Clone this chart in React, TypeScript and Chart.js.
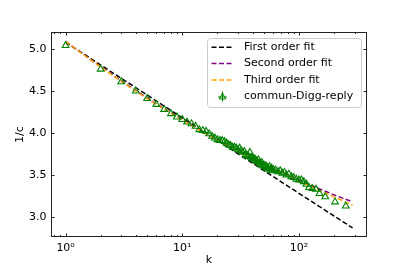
import React, { useEffect, useRef } from 'react';
import { Chart, registerables } from 'chart.js';

Chart.register(...registerables);

// observed data: degree k vs 1/c
const degreeK = [
  1, 2, 3, 4, 5, 6, 7, 8, 9, 10,
  11, 12, 13, 14, 15, 16, 17, 18, 19, 20,
  21, 22, 23, 24, 25, 26, 27, 28, 29, 30,
  31, 32, 33, 34, 35, 36, 37, 38, 39, 40,
  41, 42, 43, 44, 45, 46, 47, 48, 49, 50,
  51, 52, 53, 54, 55, 56, 57, 58, 59, 60,
  63, 66, 69, 72, 75, 78, 82, 86, 90, 95,
  100, 105, 110, 116, 122, 130, 140, 150, 168, 204, 252,
];
const invC = [
  5.04, 4.76, 4.61, 4.50, 4.41, 4.34, 4.28, 4.23, 4.19, 4.16,
  4.13, 4.11, 4.08, 4.04, 4.03, 4.02, 3.99, 3.96, 3.94, 3.92,
  3.91, 3.91, 3.90, 3.88, 3.86, 3.85, 3.83, 3.83, 3.82, 3.80,
  3.82, 3.79, 3.77, 3.78, 3.74, 3.73, 3.72, 3.77, 3.71, 3.70,
  3.69, 3.69, 3.67, 3.66, 3.68, 3.64, 3.63, 3.65, 3.61, 3.62,
  3.60, 3.61, 3.58, 3.59, 3.57, 3.60, 3.56, 3.58, 3.55, 3.57,
  3.56, 3.54, 3.55, 3.52, 3.53, 3.50, 3.51, 3.48, 3.47, 3.45,
  3.44, 3.44, 3.42, 3.39, 3.35, 3.34, 3.33, 3.28, 3.24, 3.18, 3.13,
];

// fitted curves, sampled at these k
const fitK = [1, 2, 5, 10, 20, 50, 100, 150, 200, 288];
const firstOrderFit = [5.08, 4.809, 4.452, 4.181, 3.911, 3.553, 3.282, 3.124, 3.012, 2.87];
const secondOrderFit = [5.09, 4.788, 4.417, 4.159, 3.92, 3.633, 3.439, 3.335, 3.264, 3.18];
const thirdOrderFit = [5.09, 4.785, 4.41, 4.155, 3.915, 3.625, 3.425, 3.315, 3.24, 3.14];

const seriesNames = ['First order fit', 'Second order fit', 'Third order fit', 'commun-Digg-reply'];
const seriesColors = ['#000000', '#800080', '#FFA500', '#008000'];

const xMajorTicks = [1, 10, 100];
const xMinorTicks = [0.8, 0.9, 2, 3, 4, 5, 6, 7, 8, 9, 20, 30, 40, 50, 60, 70, 80, 90, 200, 300];
const yMajorTicks = [3.0, 3.5, 4.0, 4.5, 5.0];
const supDigits = ['⁰', '¹', '²', '³'];

const FONT = '"DejaVu Sans", sans-serif';
const FS = 11;
const DASH = [5, 2.5];

const framePlugin = {
  id: 'framePlugin',
  afterDatasetsDraw(chart: any) {
    const { ctx, chartArea: a, scales } = chart;
    const xs = scales.x;
    const ys = scales.y;
    ctx.save();
    ctx.strokeStyle = '#222';
    ctx.lineWidth = 1;
    // ticks, pointing inward
    ctx.beginPath();
    const tick = (v: number, len: number) => {
      const px = Math.round(xs.getPixelForValue(v)) + 0.5;
      ctx.moveTo(px, a.bottom);
      ctx.lineTo(px, a.bottom - len);
      ctx.moveTo(px, a.top);
      ctx.lineTo(px, a.top + len);
    };
    xMajorTicks.forEach((v) => tick(v, 3.5));
    xMinorTicks.forEach((v) => tick(v, 2));
    yMajorTicks.forEach((v) => {
      const py = Math.round(ys.getPixelForValue(v)) + 0.5;
      ctx.moveTo(a.left, py);
      ctx.lineTo(a.left + 3.5, py);
      ctx.moveTo(a.right, py);
      ctx.lineTo(a.right - 3.5, py);
    });
    ctx.stroke();
    ctx.strokeRect(Math.round(a.left) + 0.5, Math.round(a.top) + 0.5, Math.round(a.right - a.left) - 1, Math.round(a.bottom - a.top) - 1);

    // legend
    const bx = 207, by = 38, bw = 154, bh = 69;
    ctx.beginPath();
    ctx.roundRect(bx + 0.5, by + 0.5, bw, bh, 3);
    ctx.fillStyle = 'rgba(255,255,255,0.8)';
    ctx.fill();
    ctx.strokeStyle = '#cccccc';
    ctx.stroke();
    const rows = [47.3, 63.6, 80, 96.5];
    ctx.font = FS + 'px ' + FONT;
    ctx.textBaseline = 'middle';
    ctx.textAlign = 'left';
    rows.forEach((ry, i) => {
      ctx.strokeStyle = seriesColors[i];
      ctx.lineWidth = 1.5;
      if (i < 3) {
        ctx.setLineDash(DASH);
        ctx.beginPath();
        ctx.moveTo(211.5, ry);
        ctx.lineTo(233, ry);
        ctx.stroke();
        ctx.setLineDash([]);
      } else {
        ctx.lineWidth = 1;
        const cx = 222.5;
        ctx.beginPath();
        ctx.moveTo(cx - 4.5, ry + 0.5);
        ctx.lineTo(cx + 4.5, ry + 0.5);
        ctx.moveTo(cx, ry - 5);
        ctx.lineTo(cx, ry + 5);
        ctx.stroke();
        ctx.beginPath();
        ctx.moveTo(cx, ry - 3.5);
        ctx.lineTo(cx + 3.2, ry + 2.5);
        ctx.lineTo(cx - 3.2, ry + 2.5);
        ctx.closePath();
        ctx.stroke();
      }
      ctx.fillStyle = '#000';
      ctx.fillText(seriesNames[i], 244, ry);
    });
    ctx.restore();
  },
};

export default function App() {
  const ref = useRef<HTMLCanvasElement>(null);
  useEffect(() => {
    document.body.style.margin = '0';
    const pts = (xs: number[], ys: number[]) => xs.map((x, i) => ({ x, y: ys[i] }));
    const fitDs = (idx: number, vals: number[]) => ({
      label: seriesNames[idx],
      data: pts(fitK, vals),
      showLine: true,
      borderColor: seriesColors[idx],
      borderWidth: 1.5,
      borderDash: DASH,
      pointRadius: 0,
      fill: false,
      tension: 0.4,
      cubicInterpolationMode: 'monotone' as const,
    });
    const chart = new Chart(ref.current!, {
      type: 'scatter',
      data: {
        datasets: [
          {
            label: seriesNames[3],
            data: pts(degreeK, invC),
            showLine: false,
            pointStyle: 'triangle',
            pointRadius: 3.9,
            borderWidth: 1.1,
            borderColor: seriesColors[3],
            backgroundColor: 'rgba(0,0,0,0)',
          },
          fitDs(2, thirdOrderFit),
          fitDs(1, secondOrderFit),
          fitDs(0, firstOrderFit),
        ] as any,
      },
      options: {
        animation: false,
        responsive: false,
        devicePixelRatio: 1,
        layout: { padding: { left: 0, top: 32, right: 40, bottom: 0 } },
        plugins: { legend: { display: false }, tooltip: { enabled: false } },
        scales: {
          x: {
            type: 'logarithmic',
            min: 0.75,
            max: 383,
            grid: { display: false, drawTicks: false },
            border: { display: false },
            afterBuildTicks: (s: any) => {
              s.ticks = xMajorTicks.map((v) => ({ value: v }));
            },
            afterFit: (s: any) => {
              s.height = 34;
            },
            ticks: {
              autoSkip: false,
              maxRotation: 0,
              padding: 5,
              color: '#000',
              font: { family: FONT, size: FS },
              callback: (v: any) => '10' + supDigits[Math.round(Math.log10(Number(v)))],
            },
            title: {
              display: true,
              text: 'k',
              color: '#000',
              font: { family: FONT, size: FS },
              padding: { top: 0, bottom: 4.5 },
            },
          },
          y: {
            type: 'linear',
            min: 2.762,
            max: 5.202,
            grid: { display: false, drawTicks: false },
            border: { display: false },
            afterBuildTicks: (s: any) => {
              s.ticks = yMajorTicks.map((v) => ({ value: v }));
            },
            afterFit: (s: any) => {
              s.width = 51;
            },
            ticks: {
              padding: 4.5,
              color: '#000',
              font: { family: FONT, size: FS },
              callback: (v: any) => Number(v).toFixed(1),
            },
            title: {
              display: true,
              text: '1/c',
              color: '#000',
              font: { family: FONT, size: FS },
              padding: { top: 14, bottom: 0 },
            },
          },
        },
      },
      plugins: [framePlugin],
    });
    return () => chart.destroy();
  }, []);
  return (
    <div style={{ position: 'absolute', left: 0, top: 0, width: 407, height: 271 }}>
      <canvas ref={ref} width={407} height={271} style={{ width: 407, height: 271 }} />
    </div>
  );
}
